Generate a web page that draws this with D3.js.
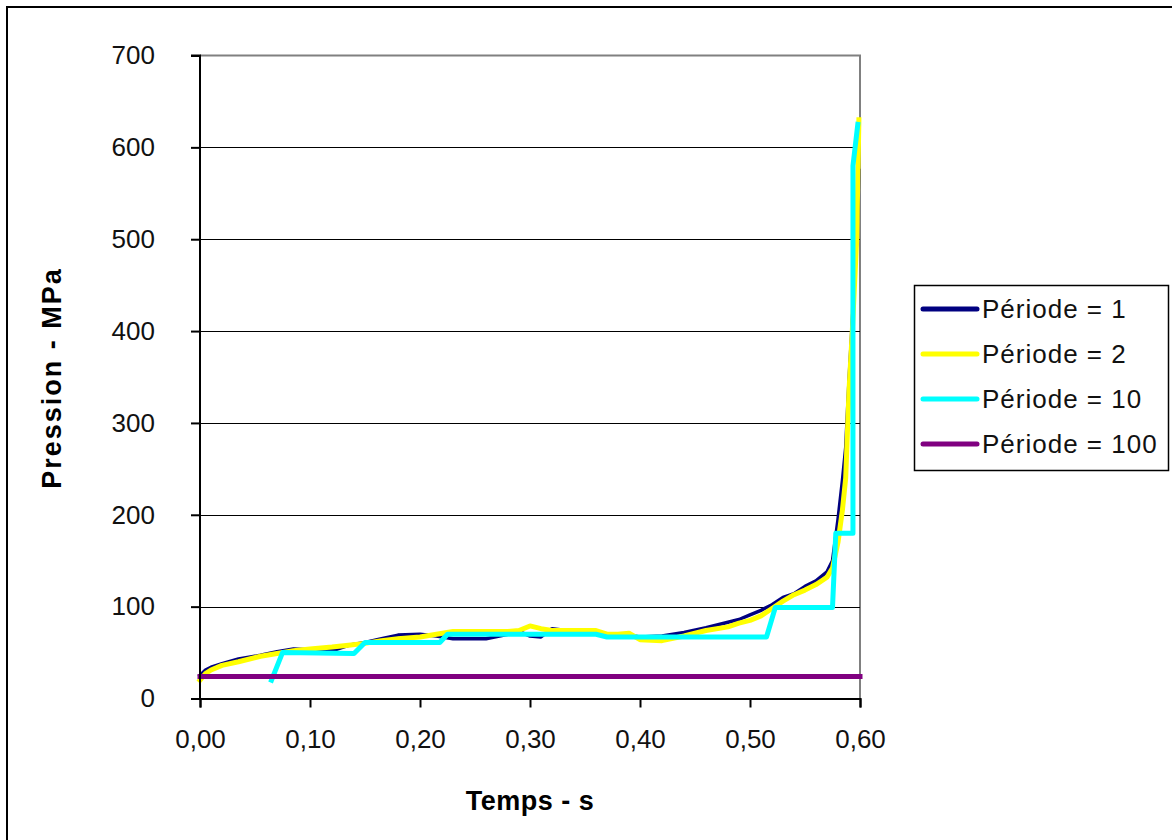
<!DOCTYPE html>
<html>
<head>
<meta charset="utf-8">
<script src="https://cdn.jsdelivr.net/npm/d3@7"></script>
<style>
  html, body { margin: 0; padding: 0; background: #fff; }
  svg { display: block; font-family: "Liberation Sans", Arial, sans-serif; }
</style>
</head>
<body>
<svg id="chart" width="1172" height="840"></svg>
<script>
// ---- Data ----
const times = [0, 0.005, 0.01, 0.02, 0.035, 0.055, 0.07, 0.085, 0.1, 0.12,
  0.135, 0.15, 0.165, 0.18, 0.2, 0.215, 0.23, 0.26, 0.28, 0.29,
  0.3, 0.31, 0.32, 0.34, 0.36, 0.37, 0.38, 0.39, 0.4, 0.42,
  0.44, 0.46, 0.48, 0.49, 0.5, 0.51, 0.52, 0.53, 0.54, 0.55,
  0.56, 0.57, 0.575, 0.58, 0.584, 0.587, 0.59, 0.593, 0.597, 0.599];
const periode1 = [25, 31, 34, 38, 43, 47, 51, 54, 53, 52,
  58, 61, 65, 69, 70, 68, 65, 65, 70, 73,
  68, 67, 76, 73, 72, 68, 68, 69, 67, 68,
  72, 77, 83, 86, 91, 96, 102, 110, 114, 122,
  128, 138, 150, 195, 237, 273, 346, 410, 500, 575];
const periode2 = [20, 27, 31, 36, 40, 46, 49, 52, 54, 56,
  58, 60, 63, 65, 67, 70, 73, 73, 73, 74,
  79, 76, 74, 74, 74, 70, 70, 71, 64, 63,
  68, 74, 78, 82, 85, 90, 98, 106, 113, 118,
  124, 132, 142, 170, 205, 240, 335, 400, 500, 630];
const times10 = [0.065, 0.075, 0.14, 0.15, 0.218, 0.225, 0.36, 0.37, 0.515, 0.523,
  0.575, 0.578, 0.5936, 0.5936, 0.598];
const periode10 = [20, 50, 49, 61, 61, 70, 70, 67, 67, 99,
  99, 180, 180, 580, 625];
const times100 = [0, 0.6];
const periode100 = [24, 24];

const seriesNames = ["Période = 1", "Période = 2", "Période = 10", "Période = 100"];
const seriesColors = ["#000080", "#FFFF00", "#00FFFF", "#800080"];
const seriesWidths = [3.5, 5, 5, 5];

const yTicks = [0, 100, 200, 300, 400, 500, 600, 700];
const xTicks = [0, 0.1, 0.2, 0.3, 0.4, 0.5, 0.6];
const xTitle = "Temps - s";
const yTitle = "Pression - MPa";

// ---- Layout ----
const svg = d3.select("#chart");
const x = d3.scaleLinear().domain([0, 0.6]).range([200, 860]);
const y = d3.scaleLinear().domain([0, 700]).range([698.5, 55.5]);
const fmtX = v => d3.format(".2f")(v).replace(".", ",");

// outer frame (only left/top visible in the picture)
svg.append("rect").attr("x", 7).attr("y", 7).attr("width", 1200).attr("height", 900)
  .attr("fill", "none").attr("stroke", "#000").attr("stroke-width", 2);

// plot area frame (grey top/right)
svg.append("path")
  .attr("d", `M${x(0)},${y(700)}H${x(0.6)}V${y(0)}`)
  .attr("fill", "none").attr("stroke", "#808080").attr("stroke-width", 2);

// gridlines
svg.append("g").selectAll("line").data(yTicks.filter(d => d > 0 && d < 700)).join("line")
  .attr("x1", x(0)).attr("x2", x(0.6))
  .attr("y1", d => Math.round(y(d)) + 0.5).attr("y2", d => Math.round(y(d)) + 0.5)
  .attr("stroke", "#000").attr("stroke-width", 1);

// series
const series = [
  { t: times, v: periode1 },
  { t: times, v: periode2 },
  { t: times10, v: periode10 },
  { t: times100, v: periode100 }
];
const line = d3.line().x(d => x(d[0])).y(d => y(d[1]));
series.forEach((s, i) => {
  const pts = s.t.map((t, j) => [t, s.v[j]]);
  svg.append("path").datum(pts)
    .attr("d", line)
    .attr("fill", "none")
    .attr("stroke", seriesColors[i])
    .attr("stroke-width", seriesWidths[i])
    .attr("stroke-linejoin", "round")
    .attr("stroke-linecap", "square");
});

// axes
const yAxis = d3.axisLeft(y).tickValues(yTicks).tickSize(9).tickPadding(36).tickFormat(d3.format("d"));
const gy = svg.append("g").attr("transform", `translate(${x(0)},0)`).call(yAxis);
const xAxis = d3.axisBottom(x).tickValues(xTicks).tickSize(9).tickPadding(22).tickFormat(fmtX);
const gx = svg.append("g").attr("transform", `translate(0,${y(0)})`).call(xAxis);
[gx, gy].forEach(g => {
  g.select(".domain").attr("stroke", "#000").attr("stroke-width", 2);
  g.selectAll(".tick line").attr("stroke", "#000").attr("stroke-width", 2);
  g.selectAll(".tick text").attr("fill", "#111").style("font-size", "26px")
    .style("font-family", "'Liberation Sans', Arial, sans-serif");
});
gy.select(".domain").attr("d", `M-9,${y(700)}H0V${y(0)}`);

// axis titles
svg.append("text").attr("x", 530).attr("y", 810).attr("text-anchor", "middle")
  .style("font-size", "27px").style("font-weight", "bold").style("letter-spacing", "0.5px").text(xTitle);
svg.append("text").attr("transform", "translate(61,378) rotate(-90)").attr("text-anchor", "middle")
  .style("font-size", "27px").style("font-weight", "bold").style("letter-spacing", "2px").text(yTitle);

// legend
const lg = svg.append("g");
lg.append("rect").attr("x", 914.5).attr("y", 285.5).attr("width", 254).attr("height", 185)
  .attr("fill", "#fff").attr("stroke", "#000").attr("stroke-width", 1.5);
seriesNames.forEach((name, i) => {
  const cy = 309 + i * 45;
  lg.append("line").attr("x1", 923).attr("x2", 977).attr("y1", cy).attr("y2", cy)
    .attr("stroke", seriesColors[i]).attr("stroke-width", 5).attr("stroke-linecap", "round");
  lg.append("text").attr("x", 982).attr("y", cy + 9).style("font-size", "26px")
    .style("letter-spacing", "1px").attr("fill", "#111").text(name);
});
</script>
</body>
</html>
